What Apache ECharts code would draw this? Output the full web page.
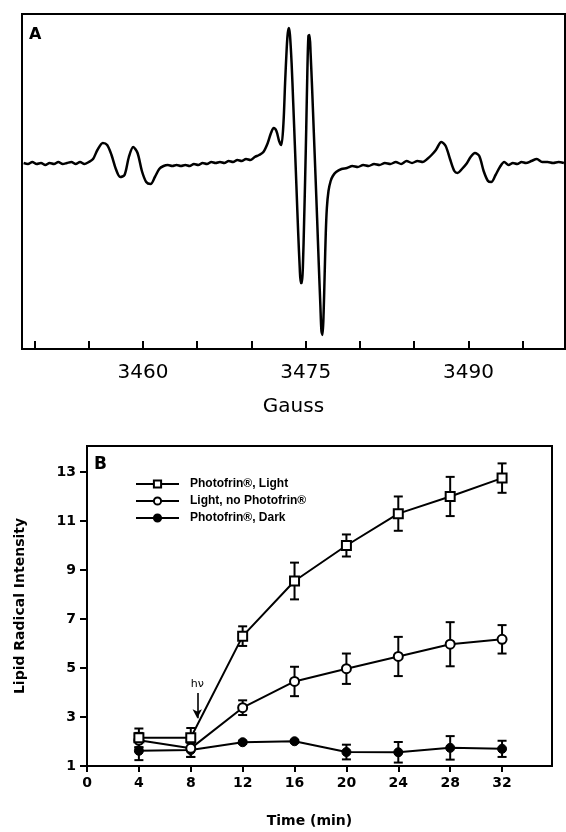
<!DOCTYPE html>
<html>
<head>
<meta charset="utf-8">
<script src="https://cdn.jsdelivr.net/npm/echarts@6/dist/echarts.min.js"></script>
<style>
html,body{margin:0;padding:0;background:#fff;}
#chart{width:566px;height:832px;}
</style>
</head>
<body>
<div id="chart"></div>
<script>
// ---------- Panel A: EPR spectrum (field in Gauss, signal in arbitrary units) ----------
const gaussField = [3449.0,3449.4,3449.8,3450.2,3450.6,3451.0,3451.4,3451.8,3452.2,3452.6,3453.0,3453.4,3453.8,3454.2,3454.6,3455.0,3455.4,3455.8,3456.3,3456.7,3457.1,3457.5,3457.9,3458.3,3458.7,3459.1,3459.5,3459.9,3460.3,3460.7,3461.1,3461.5,3461.9,3462.3,3462.7,3463.1,3463.5,3463.9,3464.3,3464.7,3465.1,3465.5,3465.9,3466.3,3466.7,3467.1,3467.5,3467.9,3468.3,3468.7,3469.1,3469.5,3469.9,3470.3,3470.7,3471.1,3471.5,3471.8,3472.05,3472.3,3472.55,3472.75,3472.95,3473.1,3473.25,3473.35,3473.45,3473.55,3473.7,3473.85,3474.0,3474.15,3474.3,3474.45,3474.55,3474.65,3474.75,3474.85,3474.95,3475.05,3475.15,3475.25,3475.35,3475.45,3475.6,3475.75,3475.9,3476.05,3476.2,3476.35,3476.45,3476.55,3476.65,3476.75,3476.85,3476.95,3477.1,3477.3,3477.5,3477.8,3478.3,3478.8,3479.3,3479.8,3480.3,3480.8,3481.3,3481.8,3482.3,3482.8,3483.3,3483.8,3484.3,3484.8,3485.3,3485.8,3486.2,3486.6,3487.0,3487.5,3487.9,3488.3,3488.7,3489.0,3489.4,3489.8,3490.2,3490.6,3491.0,3491.4,3491.8,3492.1,3492.5,3492.9,3493.3,3493.7,3494.1,3494.5,3494.9,3495.3,3495.8,3496.3,3496.8,3497.3,3497.8,3498.3,3498.8];
const eprSignal = [0,-1,1,-1,0,-2,0,-1,1,-1,0,1,-1,1,-1,1,4,13,20,18,8,-6,-14,-12,6,16,10,-8,-19,-21,-14,-6,-3,-2,-3,-2,-3,-2,-3,-1,-2,0,-1,1,0,1,0,2,1,3,2,4,3,6,8,11,20,30,35,32,22,18,40,80,115,130,135,128,100,60,18,-25,-68,-105,-120,-120,-100,-60,-15,35,90,127,128,110,72,30,-12,-55,-100,-142,-168,-172,-150,-110,-70,-45,-28,-18,-13,-9,-6,-5,-3,-4,-2,-3,-1,-2,0,-1,1,-1,2,0,2,1,4,8,13,21,17,4,-8,-10,-6,-1,6,10,7,-8,-18,-19,-12,-4,1,-2,0,-1,1,0,2,4,1,1,0,1,0];
const gaussTicks = [3450,3455,3460,3465,3470,3475,3480,3485,3490,3495];
const gaussLabels = [3460,3475,3490];

// ---------- Panel B: lipid radical intensity vs time ----------
const timeMin = [4,8,12,16,20,24,28,32];
const lightMean   = [2.15,2.15,6.3,8.55,10.0,11.3,12.0,12.75];
const lightErr    = [0.38,0.40,0.40,0.75,0.45,0.70,0.80,0.60];
const noPhotoMean = [2.05,1.72,3.38,4.45,4.97,5.47,5.97,6.17];
const noPhotoErr  = [0.30,0.35,0.30,0.60,0.62,0.80,0.90,0.58];
const darkMean    = [1.62,1.65,1.97,2.01,1.57,1.56,1.74,1.70];
const darkErr     = [0.38,0.28,0.06,0.05,0.30,0.42,0.48,0.33];
const timeTicks = [0,4,8,12,16,20,24,28,32];
const intensityTicks = [1,3,5,7,9,11,13];
const seriesNames = ['Photofrin®, Light','Light, no Photofrin®','Photofrin®, Dark'];

const chart = echarts.init(document.getElementById('chart'), null, {renderer:'canvas'});

function pairs(xs, ys){ return xs.map((x,i)=>[x, ys[i]]); }
function errData(xs, m, e){ return xs.map((x,i)=>[x, m[i]-e[i], m[i]+e[i]]); }

function errRenderItem(params, api){
  const x = api.value(0), lo = api.value(1), hi = api.value(2);
  const p1 = api.coord([x, hi]);
  const p2 = api.coord([x, lo]);
  const w = 4.5;
  const st = {stroke:'#000', lineWidth:2};
  return {type:'group', children:[
    {type:'line', shape:{x1:p1[0], y1:p1[1], x2:p2[0], y2:p2[1]}, style:st},
    {type:'line', shape:{x1:p1[0]-w, y1:p1[1], x2:p1[0]+w, y2:p1[1]}, style:st},
    {type:'line', shape:{x1:p2[0]-w, y1:p2[1], x2:p2[0]+w, y2:p2[1]}, style:st}
  ]};
}

const fontB = 'DejaVu Sans';

const option = {
  animation:false,
  backgroundColor:'#fff',
  title:[
    {text:'A', left:24, top:22, textStyle:{fontFamily:fontB, fontWeight:'bold', fontSize:16, color:'#000'}},
    {text:'B', left:89, top:451, textStyle:{fontFamily:fontB, fontWeight:'bold', fontSize:17, color:'#000'}}
  ],
  legend:{
    data:seriesNames,
    orient:'vertical',
    left:130, top:473,
    itemWidth:43, itemHeight:9, itemGap:5,
    textStyle:{fontFamily:'Liberation Sans', fontWeight:'bold', fontSize:12, color:'#000', padding:[0,0,0,6]},
    selectedMode:false
  },
  grid:[
    {left:22, right:1, top:14, bottom:483, show:true, borderColor:'#000', borderWidth:2, backgroundColor:'transparent'},
    {left:87, right:14, top:446, bottom:66, show:true, borderColor:'#000', borderWidth:2, backgroundColor:'transparent'}
  ],
  xAxis:[
    {gridIndex:0, type:'value', min:3448.85, max:3498.9,
     name:'Gauss', nameLocation:'middle', nameGap:48,
     nameTextStyle:{fontFamily:'DejaVu Sans', fontSize:20, color:'#000'},
     axisLine:{onZero:false, lineStyle:{color:'#000', width:2}},
     axisTick:{inside:true, length:8, lineStyle:{color:'#000', width:2}, customValues:gaussTicks},
     axisLabel:{margin:14, fontFamily:'DejaVu Sans', fontSize:20, color:'#000', customValues:gaussLabels, formatter:(v)=>String(v)},
     splitLine:{show:false}},
    {gridIndex:1, type:'value', min:0, max:35.85,
     name:'Time (min)', nameLocation:'middle', nameGap:48,
     nameTextStyle:{fontFamily:fontB, fontWeight:'bold', fontSize:14, color:'#000', padding:[0,20,0,0]},
     axisLine:{onZero:false, lineStyle:{color:'#000', width:2}},
     axisTick:{length:6, lineStyle:{color:'#000', width:2}, customValues:timeTicks},
     axisLabel:{margin:10, fontFamily:fontB, fontWeight:'bold', fontSize:14, color:'#000', customValues:timeTicks, formatter:(v)=>String(v)},
     splitLine:{show:false}}
  ],
  yAxis:[
    {gridIndex:0, type:'value', min:-186, max:149,
     axisLine:{show:false}, axisTick:{show:false}, axisLabel:{show:false}, splitLine:{show:false}},
    {gridIndex:1, type:'value', min:1, max:14.06,
     name:'Lipid Radical Intensity', nameLocation:'middle', nameGap:60,
     nameTextStyle:{fontFamily:fontB, fontWeight:'bold', fontSize:14, color:'#000'},
     axisLine:{show:true, onZero:false, lineStyle:{color:'#000', width:2}},
     axisTick:{length:7, lineStyle:{color:'#000', width:2}, customValues:intensityTicks},
     axisLabel:{margin:11, fontFamily:fontB, fontWeight:'bold', fontSize:14, color:'#000', customValues:intensityTicks, formatter:(v)=>String(v)},
     splitLine:{show:false}}
  ],
  series:[
    {type:'line', xAxisIndex:0, yAxisIndex:0, data:pairs(gaussField, eprSignal),
     showSymbol:false, symbol:'none', smooth:0.3, lineStyle:{color:'#000', width:2.5}, silent:true},

    {type:'custom', xAxisIndex:1, yAxisIndex:1, renderItem:errRenderItem, data:errData(timeMin, lightMean, lightErr), encode:{x:0, y:[1,2]}, z:1, silent:true},
    {type:'custom', xAxisIndex:1, yAxisIndex:1, renderItem:errRenderItem, data:errData(timeMin, noPhotoMean, noPhotoErr), encode:{x:0, y:[1,2]}, z:1, silent:true},
    {type:'custom', xAxisIndex:1, yAxisIndex:1, renderItem:errRenderItem, data:errData(timeMin, darkMean, darkErr), encode:{x:0, y:[1,2]}, z:1, silent:true},

    {name:seriesNames[2], type:'line', xAxisIndex:1, yAxisIndex:1, data:pairs(timeMin, darkMean),
     symbol:'circle', symbolSize:9, z:3,
     itemStyle:{color:'#000', borderColor:'#000', borderWidth:1},
     lineStyle:{color:'#000', width:2}, silent:true},
    {name:seriesNames[1], type:'line', xAxisIndex:1, yAxisIndex:1, data:pairs(timeMin, noPhotoMean),
     symbol:'circle', symbolSize:9, z:4,
     itemStyle:{color:'#fff', borderColor:'#000', borderWidth:2},
     lineStyle:{color:'#000', width:2}, silent:true},
    {name:seriesNames[0], type:'line', xAxisIndex:1, yAxisIndex:1, data:pairs(timeMin, lightMean),
     symbol:'rect', symbolSize:9, z:5,
     itemStyle:{color:'#fff', borderColor:'#000', borderWidth:2},
     lineStyle:{color:'#000', width:2}, silent:true,
     markLine:{silent:true, symbol:['none','arrow'], symbolSize:[7,9], animation:false,
       lineStyle:{color:'#000', width:1.6, type:'solid'},
       label:{show:true, position:'start', formatter:'hν', fontFamily:'DejaVu Sans', fontSize:11, color:'#000', distance:3},
       data:[[{coord:[8.5, 3.98]}, {coord:[8.5, 2.95]}]]}}
  ]
};
chart.setOption(option);
</script>
</body>
</html>
